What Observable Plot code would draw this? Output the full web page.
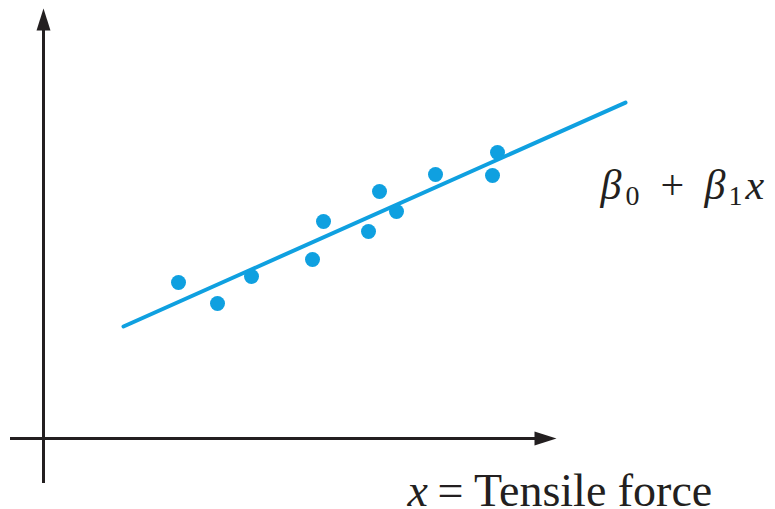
<!DOCTYPE html>
<html>
<head>
<meta charset="utf-8">
<script src="https://cdn.jsdelivr.net/npm/d3@7"></script>
<script src="https://cdn.jsdelivr.net/npm/@observablehq/plot@0.6"></script>
<style>
  html, body { margin: 0; padding: 0; background: #fff; }
  svg { display: block; }
  svg text { font-family: "Liberation Serif", serif !important; }
</style>
</head>
<body>
<div id="chart"></div>
<script>
// Observed (tensile force, response) pairs
const force = [2.70, 3.48, 4.16, 5.38, 5.60, 6.50, 6.72, 7.06, 7.84, 8.98, 9.08];
const response = [3.12, 2.70, 3.24, 3.58, 4.34, 4.14, 4.94, 4.54, 5.28, 5.26, 5.72];

// Fitted straight line  y = b0 + b1 x, drawn over this x range
const b0 = 1.526;
const b1 = 0.446;
const fitRange = [1.6, 11.64];

// Axis extents (axes run slightly past the origin)
const xAxisExtent = [-0.66, 10.0];
const yAxisExtent = [-0.9, 8.3];
const xArrowTip = 10.26;
const yArrowTip = 8.6;

// Label pieces
const xLabel = ["x", "= Tensile force"];
const lineLabel = ["\u03B2", "0", "+", "\u03B2", "1", "x"];

const blue = "#0fa0e0";
const ink = "#231f20";

const points = force.map((x, i) => ({x, y: response[i]}));
const fit = fitRange.map(x => ({x, y: b0 + b1 * x}));

// one text piece of a label, placed relative to the label's anchor
const piece = (str, anchor, o) => Plot.text([str], {
  x: anchor[0], y: anchor[1], textAnchor: "start", lineAnchor: "bottom",
  fontFamily: "Liberation Serif", fill: ink, ...o
});
const xLabelAt = [7.28, -1.34];
const lineLabelAt = [11.14, 4.8];

const chart = Plot.plot({
  width: 775,
  height: 509,
  margin: 0,
  x: {domain: [-0.86, 14.64], axis: null},
  y: {domain: [-1.42, 8.76], axis: null},
  style: {background: "#fff", overflow: "visible"},
  marks: [
    // axes
    Plot.ruleY([0], {x1: xAxisExtent[0], x2: xAxisExtent[1], stroke: ink, strokeWidth: 3}),
    Plot.ruleX([0], {y1: yAxisExtent[0], y2: yAxisExtent[1], stroke: ink, strokeWidth: 3}),
    Plot.vector([0], {x: xArrowTip, y: 0, length: 22, rotate: 90, anchor: "end", shape: "spike", r: 7, fill: ink, stroke: "none"}),
    Plot.vector([0], {x: 0, y: yArrowTip, length: 22, rotate: 0, anchor: "end", shape: "spike", r: 7, fill: ink, stroke: "none"}),
    // fitted line
    Plot.line(fit, {x: "x", y: "y", stroke: blue, strokeWidth: 4, strokeLinecap: "round"}),
    // observations
    Plot.dot(points, {x: "x", y: "y", r: 7.5, fill: blue, stroke: "none"}),
    // x = Tensile force
    piece(xLabel[0], xLabelAt, {fontSize: 46, fontStyle: "italic"}),
    piece(xLabel[1], xLabelAt, {fontSize: 46, dx: 30}),
    // beta0 + beta1 x
    piece(lineLabel[0], lineLabelAt, {fontSize: 42, fontStyle: "italic"}),
    piece(lineLabel[1], lineLabelAt, {fontSize: 28, dx: 25, dy: 6}),
    piece(lineLabel[2], lineLabelAt, {fontSize: 42, dx: 60}),
    piece(lineLabel[3], lineLabelAt, {fontSize: 42, dx: 104, fontStyle: "italic"}),
    piece(lineLabel[4], lineLabelAt, {fontSize: 28, dx: 128, dy: 6}),
    piece(lineLabel[5], lineLabelAt, {fontSize: 42, dx: 145, fontStyle: "italic"})
  ]
});

// serif face for every label
chart.setAttribute("font-family", "Liberation Serif");
chart.querySelectorAll("text").forEach(t => t.style.setProperty("font-family", "Liberation Serif", "important"));

document.getElementById("chart").appendChild(chart);
</script>
</body>
</html>
